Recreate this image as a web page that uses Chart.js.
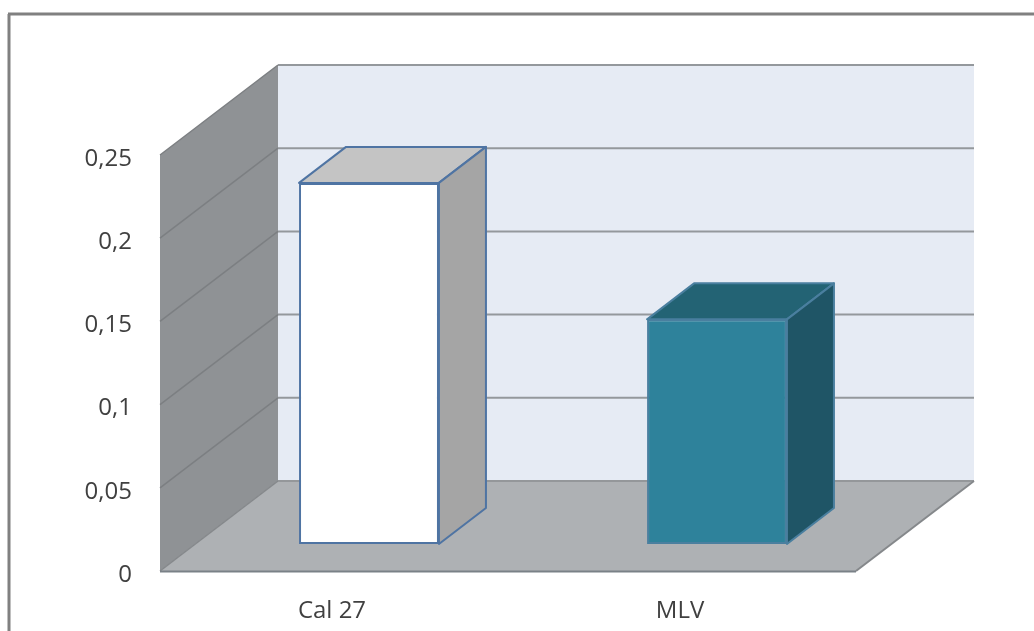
<!DOCTYPE html>
<html>
<head>
<meta charset="utf-8">
<title>Cal 27 / MLV</title>
<script src="https://cdn.jsdelivr.net/npm/chart.js@4"></script>
<style>
  html, body { margin: 0; padding: 0; background: #fff; overflow: hidden; }
  canvas { display: block; }
</style>
</head>
<body>
<canvas id="barChart" width="1034" height="631"></canvas>
<script>
// ================= DATA =================
const categories = ["Cal 27", "MLV"];
const values = [0.217, 0.135];
const barFill = ["#ffffff", "#2e829b"];
const barTop = ["#c4c4c4", "#236374"];
const barSide = ["#a5a5a5", "#1f5566"];
const barEdge = ["#4f74a3", "#4a7f9f"];

// ================= 3D LOOK =================
const wallDepth = { x: 118, y: -90 };   // front plane to back wall
const barShift = { x: 35, y: -27 };     // bars stand inside the floor
const barDepth = { x: 47, y: -36 };     // depth of a single bar

function poly(ctx, pts, fill, stroke, width) {
    ctx.beginPath();
    pts.forEach((p, i) => i ? ctx.lineTo(p[0], p[1]) : ctx.moveTo(p[0], p[1]));
    ctx.closePath();
    ctx.fillStyle = fill;
    ctx.fill();
    if (stroke) {
        ctx.strokeStyle = stroke;
        ctx.lineWidth = width;
        ctx.lineJoin = "round";
        ctx.stroke();
    }
}

function line(ctx, x1, y1, x2, y2, color, width) {
    ctx.beginPath();
    ctx.moveTo(x1, y1);
    ctx.lineTo(x2, y2);
    ctx.strokeStyle = color;
    ctx.lineWidth = width;
    ctx.stroke();
}

const box3d = {
    id: "box3d",
    beforeDatasetsDraw(chart) {
        const ctx = chart.ctx;
        const { left, right, top, bottom } = chart.chartArea;
        const dx = wallDepth.x, dy = wallDepth.y;
        const yScale = chart.scales.y;

        // outer frame, open at the right and bottom of the page
        line(ctx, 9, 631, 9, 14, "#808080", 3);
        line(ctx, 8, 14, 1034, 14, "#808080", 3);

        // back wall, side wall, floor
        poly(ctx, [[left + dx, top + dy], [right + dx, top + dy], [right + dx, bottom + dy], [left + dx, bottom + dy]], "#e6ebf4");
        poly(ctx, [[left, top], [left + dx, top + dy], [left + dx, bottom + dy], [left, bottom]], "#8f9295");
        poly(ctx, [[left, bottom], [left + dx, bottom + dy], [right + dx, bottom + dy], [right, bottom]], "#aeb1b4");

        // gridlines run along the side wall and across the back wall
        yScale.ticks.forEach(t => {
            const y = yScale.getPixelForValue(t.value);
            if (t.value > 0) {
                line(ctx, left, y, left + dx, y + dy, "#7c7f82", 1.5);
                line(ctx, left + dx, y + dy, right + dx, y + dy, "#94989c", 2);
            }
        });
        line(ctx, left, bottom, left + dx, bottom + dy, "#85888b", 1.5);
        line(ctx, left + dx, bottom + dy, right + dx, bottom + dy, "#94979a", 2);
        line(ctx, right, bottom, right + dx, bottom + dy, "#85888b", 2);
        line(ctx, left, bottom + 0.5, right, bottom + 0.5, "#7a8187", 2);

        // top and side faces of each bar
        chart.getDatasetMeta(0).data.forEach((bar, i) => {
            const p = bar.getProps(["x", "y", "base", "width"], true);
            const x1 = p.x - p.width / 2 + barShift.x;
            const x2 = p.x + p.width / 2 + barShift.x;
            const y1 = p.y + barShift.y;
            const y2 = p.base + barShift.y;
            poly(ctx, [[x1, y1], [x1 + barDepth.x, y1 + barDepth.y], [x2 + barDepth.x, y1 + barDepth.y], [x2, y1]], barTop[i], barEdge[i], 2);
            poly(ctx, [[x2, y1], [x2 + barDepth.x, y1 + barDepth.y], [x2 + barDepth.x, y2 + barDepth.y], [x2, y2]], barSide[i], barEdge[i], 2);
        });

        // front faces are drawn by the bar controller on the shifted plane
        ctx.save();
        ctx.translate(barShift.x, barShift.y);
    },
    afterDatasetsDraw(chart) {
        chart.ctx.restore();
    }
};

// ================= BAR CHART =================
new Chart(document.getElementById("barChart"), {
    type: "bar",
    data: {
        labels: categories,
        datasets: [{
            data: values,
            backgroundColor: barFill,
            borderColor: barEdge,
            borderWidth: 2,
            borderSkipped: false,
            barPercentage: 0.402,
            categoryPercentage: 1,
            clip: false
        }]
    },
    options: {
        responsive: false,
        animation: false,
        events: [],
        layout: { padding: { top: 155, right: 178 } },
        plugins: {
            legend: { display: false },
            tooltip: { enabled: false }
        },
        scales: {
            x: {
                afterFit: s => { s.height = 60; },
                grid: { display: false },
                border: { display: false },
                ticks: {
                    padding: 18,
                    labelOffset: -2,
                    color: "#404040",
                    font: { family: "Open Sans", size: 24 },
                    maxRotation: 0
                }
            },
            y: {
                min: 0,
                max: 0.25,
                afterFit: s => { s.width = 160; },
                grid: { display: false },
                border: { display: false },
                ticks: {
                    stepSize: 0.05,
                    padding: 20,
                    labelOffset: 4,
                    color: "#404040",
                    font: { family: "Open Sans", size: 24 },
                    callback: v => String(Number(v.toFixed(2))).replace(".", ",")
                }
            }
        }
    },
    plugins: [box3d]
});
</script>
</body>
</html>
